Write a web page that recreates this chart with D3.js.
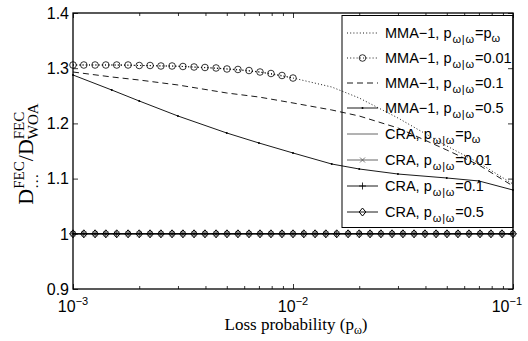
<!DOCTYPE html>
<html><head><meta charset="utf-8">
<script src="https://cdn.jsdelivr.net/npm/d3@7"></script>
<style>body{margin:0;background:#fff}</style>
</head><body><div id="chart"></div>
<script>
var width=528, height=341;
var mLeft=73, mRight=513, mTop=13, mBottom=289;

// loss probability grid for the line curves
var pLine=[0.001,0.0015,0.002,0.003,0.005,0.007,0.01,0.015,0.02,0.03,0.05,0.07,0.1];
var mmaPw =[1.3058,1.3058,1.3049,1.3036,1.2986,1.2931,1.2822,1.2659,1.2460,1.2098,1.1591,1.1283,1.0902];
var mma01 =[1.2931,1.2841,1.2786,1.2696,1.2551,1.2478,1.2370,1.2243,1.2134,1.1917,1.1518,1.1246,1.0866];
var mma05 =[1.2877,1.2605,1.2406,1.2134,1.1826,1.1645,1.1464,1.1264,1.1174,1.1083,1.1011,1.0957,1.0793];

// MMA-1 p=0.01 only up to 10^-2
var pCirc=[0.001,0.00112,0.00126,0.00141,0.00158,0.00178,0.002,0.00224,0.00251,0.00282,0.00316,
  0.00355,0.00398,0.00447,0.00501,0.00562,0.00631,0.00708,0.00794,0.00891,0.01];
var mma001=[1.3058,1.3058,1.3058,1.3058,1.3058,1.3058,1.3049,1.3049,1.3040,1.3040,1.3031,
  1.3022,1.3013,1.3004,1.2986,1.2977,1.2958,1.2931,1.2904,1.2868,1.2822];

// CRA curves, all equal to 1
var pGrid=[0.001,0.00112,0.00126,0.00141,0.00158,0.00178,0.002,0.00224,0.00251,0.00282,0.00316,
  0.00355,0.00398,0.00447,0.00501,0.00562,0.00631,0.00708,0.00794,0.00891,0.01,
  0.0112,0.0126,0.0141,0.0158,0.0178,0.02,0.0224,0.0251,0.0282,0.0316,
  0.0355,0.0398,0.0447,0.0501,0.0562,0.0631,0.0708,0.0794,0.0891,0.1];
var craRatio=[1,1,1,1,1,1,1,1,1,1,1,1,1,1,1,1,1,1,1,1,1,1,1,1,1,1,1,1,1,1,1,1,1,1,1,1,1,1,1,1,1];

var yTicks=[0.9,1,1.1,1.2,1.3,1.4];
var yTickLabels=['0.9','1','1.1','1.2','1.3','1.4'];
var xTicks=[0.001,0.01,0.1];
var xTickExp=['\u22123','\u22122','\u22121'];
var xMinor=[0.002,0.003,0.004,0.005,0.006,0.007,0.008,0.009,0.02,0.03,0.04,0.05,0.06,0.07,0.08,0.09];

var legendNames=[
  ['MMA\u22121, p','=p','\u03c9'],
  ['MMA\u22121, p','=0.01',''],
  ['MMA\u22121, p','=0.1',''],
  ['MMA\u22121, p','=0.5',''],
  ['CRA, p','=p','\u03c9'],
  ['CRA, p','=0.01',''],
  ['CRA, p','=0.1',''],
  ['CRA, p','=0.5','']
];

var svg=d3.select('#chart').append('svg').attr('width',width).attr('height',height)
  .style('font-family','"Liberation Sans", Arial, sans-serif');

var x=d3.scaleLog().domain([1e-3,1e-1]).range([mLeft,mRight]);
var y=d3.scaleLinear().domain([0.9,1.4]).range([mBottom,mTop]);

// ticks (inward, on all four sides)
function ticks(g){ g.select('.domain').remove(); g.selectAll('text').remove(); g.selectAll('line').attr('stroke','#000').attr('stroke-width',0.8) }
svg.append('g').attr('transform','translate(0,'+mBottom+')')
  .call(d3.axisBottom(x).tickValues(xTicks).tickSize(-5)).call(ticks);
svg.append('g').attr('transform','translate(0,'+mBottom+')')
  .call(d3.axisBottom(x).tickValues(xMinor).tickSize(-3)).call(ticks);
svg.append('g').attr('transform','translate(0,'+mTop+')')
  .call(d3.axisTop(x).tickValues(xTicks).tickSize(-5)).call(ticks);
svg.append('g').attr('transform','translate(0,'+mTop+')')
  .call(d3.axisTop(x).tickValues(xMinor).tickSize(-3)).call(ticks);
svg.append('g').attr('transform','translate('+mLeft+',0)')
  .call(d3.axisLeft(y).tickValues(yTicks).tickSize(-5)).call(ticks);
svg.append('g').attr('transform','translate('+mRight+',0)')
  .call(d3.axisRight(y).tickValues(yTicks).tickSize(-5)).call(ticks);

// tick labels
svg.selectAll('.ylab').data(yTicks).enter().append('text')
  .attr('x',mLeft-4).attr('y',function(d){return y(d)}).attr('dy','0.36em')
  .attr('text-anchor','end').style('font-size','16px')
  .text(function(d,i){return yTickLabels[i]});

var xl=svg.selectAll('.xlab').data(xTicks).enter().append('text')
  .attr('x',function(d){return x(d)}).attr('y',312)
  .attr('text-anchor','middle').style('font-size','16px');
xl.append('tspan').text('10');
xl.append('tspan').attr('dy',-7).style('font-size','11px').text(function(d,i){return xTickExp[i]});
xl.each(function(){
  var b=this.getBBox();
  if(b.x+b.width>width-6) d3.select(this).attr('x',+d3.select(this).attr('x')-(b.x+b.width-(width-6)));
});

// axis titles
var xt=svg.append('text').attr('x',296).attr('y',330).attr('text-anchor','middle')
  .style('font-family','"Liberation Serif", "Times New Roman", serif').style('font-size','17px');
xt.append('tspan').text('Loss probability (p');
xt.append('tspan').attr('dy',4).style('font-size','12px').text('\u03c9');
xt.append('tspan').attr('dy',-4).text(')');

var yt=svg.append('text').attr('transform','translate(33,154) rotate(-90)').attr('text-anchor','middle')
  .style('font-family','"Liberation Serif", "Times New Roman", serif').style('font-size','22px');
yt.append('tspan').text('D');
yt.append('tspan').attr('dy',-9).style('font-size','15px').text('FEC');
yt.append('tspan').attr('dx',-27.5).attr('dy',14).style('font-size','15px').text('\u2026');
yt.append('tspan').attr('dx',12.5).attr('dy',-5).text('/D');
yt.append('tspan').attr('dy',-9).style('font-size','15px').text('FEC');
yt.append('tspan').attr('dx',-27.5).attr('dy',14).style('font-size','15px').text('WOA');

// curves
var line=d3.line().x(function(d){return x(d[0])}).y(function(d){return y(d[1])});
function series(px,py){ return px.map(function(p,i){return [p,py[i]]}) }
var plot=svg.append('g');

var seriesList=[
  {px:pLine,py:mmaPw,dash:'1,2.2',color:'#000',marker:null},
  {px:pCirc,py:mma001,dash:'1,2.2',color:'#000',marker:'o'},
  {px:pLine,py:mma01,dash:'6,4',color:'#000',marker:null},
  {px:pLine,py:mma05,dash:null,color:'#000',marker:'.'},
  {px:pGrid,py:craRatio,dash:null,color:'#555',marker:null},
  {px:pGrid,py:craRatio,dash:null,color:'#555',marker:'x'},
  {px:pGrid,py:craRatio,dash:null,color:'#000',marker:'+'},
  {px:pGrid,py:craRatio,dash:null,color:'#000',marker:'d'}
];

function drawMarker(g,type,cx,cy,color){
  if(type==='o') g.append('circle').attr('cx',cx).attr('cy',cy).attr('r',3.3)
      .attr('fill','none').attr('stroke',color).attr('stroke-width',0.8);
  else if(type==='.') g.append('circle').attr('cx',cx).attr('cy',cy).attr('r',1).attr('fill',color);
  else if(type==='x') g.append('path').attr('d','M'+(cx-2.5)+','+(cy-2.5)+'L'+(cx+2.5)+','+(cy+2.5)+'M'+(cx-2.5)+','+(cy+2.5)+'L'+(cx+2.5)+','+(cy-2.5))
      .attr('stroke',color).attr('stroke-width',0.8);
  else if(type==='+') g.append('path').attr('d','M'+(cx-3.5)+','+cy+'L'+(cx+3.5)+','+cy+'M'+cx+','+(cy-3.5)+'L'+cx+','+(cy+3.5))
      .attr('stroke',color).attr('stroke-width',0.8);
  else if(type==='d') g.append('path').attr('d','M'+cx+','+(cy-4)+'L'+(cx+3.3)+','+cy+'L'+cx+','+(cy+4)+'L'+(cx-3.3)+','+cy+'Z')
      .attr('fill','none').attr('stroke',color).attr('stroke-width',1);
}

seriesList.forEach(function(s){
  var pts=series(s.px,s.py);
  plot.append('path').datum(pts).attr('d',line).attr('fill','none')
    .attr('stroke',s.color).attr('stroke-width',0.9)
    .attr('stroke-dasharray',s.dash);
  if(s.marker){
    var mg=plot.append('g');
    pts.forEach(function(d){ drawMarker(mg,s.marker,x(d[0]),y(d[1]),s.color) });
  }
});

// frame
svg.append('rect').attr('x',mLeft).attr('y',mTop).attr('width',mRight-mLeft).attr('height',mBottom-mTop)
  .attr('fill','none').attr('stroke','#000').attr('stroke-width',1.3);

// legend
var lg=svg.append('g');
lg.append('rect').attr('x',342).attr('y',15.5).attr('width',171).attr('height',212)
  .attr('fill','none').attr('stroke','#000').attr('stroke-width',1);
var rowY=[33,58,83,108,134,160,186,212];
seriesList.forEach(function(s,i){
  var ly=rowY[i];
  lg.append('line').attr('x1',347).attr('x2',378).attr('y1',ly).attr('y2',ly)
    .attr('stroke',s.color).attr('stroke-width',0.9).attr('stroke-dasharray',s.dash);
  if(s.marker) drawMarker(lg,s.marker,362.5,ly,s.color);
  var t=lg.append('text').attr('x',385).attr('y',ly+5).style('font-size','14.5px');
  t.append('tspan').text(legendNames[i][0]);
  t.append('tspan').attr('dy',5).attr('dx',1).style('font-size','11px').style('letter-spacing','0.8px').text('\u03c9|\u03c9');
  t.append('tspan').attr('dy',-5).text(legendNames[i][1]);
  if(legendNames[i][2]) t.append('tspan').attr('dy',4).style('font-size','11px').text(legendNames[i][2]);
});
</script>
</body></html>
